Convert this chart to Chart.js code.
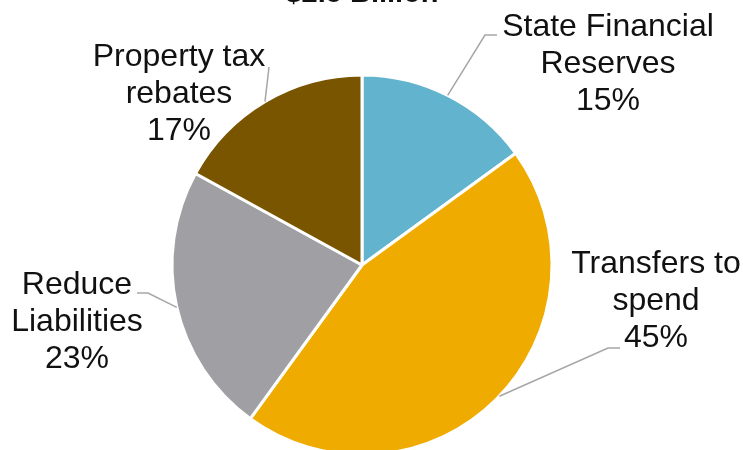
<!DOCTYPE html>
<html>
<head>
<meta charset="utf-8">
<script src="https://cdn.jsdelivr.net/npm/chart.js@4.4.0/dist/chart.umd.min.js"></script>
<style>
  html, body { margin: 0; padding: 0; background: #fff; overflow: hidden; width: 743px; height: 450px; }
  #wrap { position: relative; width: 743px; height: 460px; }
</style>
</head>
<body>
<div id="wrap"><canvas id="grafico"></canvas></div>
<script>
// data
var titulo = "$2.5 Billion";
var categorias = [
	["State Financial", "Reserves"],
	["Transfers to", "spend"],
	["Reduce", "Liabilities"],
	["Property tax", "rebates"]
];
var porcentajes = [15, 45, 23, 17];
var colores = ["#62B3CD", "#F0AB00", "#A09FA4", "#7A5500"];

// where each label sits, relative to the pie centre (middle line)
// and the leader line: angle on the rim (deg clockwise from top), elbow, end
var etiquetas = [
	{ dx: 246, dy: -192, ang: 26.8, elbow: [123, -230], fin: [135, -230] },
	{ dx: 294, dy: 45, ang: 133.7, elbow: [246, 83], fin: [258, 83] },
	{ dx: -285, dy: 66, ang: 257.1, elbow: [-214, 28], fin: [-225, 28] },
	{ dx: -183, dy: -162, ang: 329.3, elbow: [-93, -198], fin: [-93, -198] }
];

var fuente = '"Liberation Sans", Arial, sans-serif';

var etiquetasPlugin = {
	id: 'etiquetas',
	afterDraw: function(chart) {
		var ctx = chart.ctx;
		var arcs = chart.getDatasetMeta(0).data;
		if (!arcs.length) return;
		var cx = arcs[0].x, cy = arcs[0].y, r = arcs[0].outerRadius;

		ctx.save();
		// title, mostly above the canvas
		ctx.fillStyle = "#111";
		ctx.textAlign = "center";
		ctx.textBaseline = "alphabetic";
		ctx.font = "bold 29px " + fuente;
		ctx.fillText(titulo, cx, 2);

		// leader lines
		ctx.strokeStyle = "#A6A6A6";
		ctx.lineWidth = 1.5;
		for (var i = 0; i < etiquetas.length; i++) {
			var e = etiquetas[i];
			var a = e.ang * Math.PI / 180;
			ctx.beginPath();
			ctx.moveTo(cx + r * Math.sin(a), cy - r * Math.cos(a));
			ctx.lineTo(cx + e.elbow[0], cy + e.elbow[1]);
			ctx.lineTo(cx + e.fin[0], cy + e.fin[1]);
			ctx.stroke();
		}

		// category + percent text
		ctx.font = "32px " + fuente;
		ctx.fillStyle = "#111";
		var alto = 37;
		for (var j = 0; j < categorias.length; j++) {
			var lineas = categorias[j].concat([porcentajes[j] + "%"]);
			var x = cx + etiquetas[j].dx;
			var y = cy + etiquetas[j].dy - alto;
			for (var k = 0; k < lineas.length; k++) {
				ctx.fillText(lineas[k], x, y + k * alto);
			}
		}
		ctx.restore();
	}
};

var ctx = document.getElementById("grafico");

var chartdata = {
	labels: categorias.map(function(c) { return c.join(" "); }),
	datasets: [{
		data: porcentajes,
		backgroundColor: colores,
		borderColor: "#FFFFFF",
		borderWidth: 3
	}]
};

var pie = new Chart(ctx, {
	type: 'pie',
	data: chartdata,
	options: {
		responsive: true,
		maintainAspectRatio: false,
		animation: false,
		events: [],
		layout: { padding: { top: 73.5, bottom: 3.5, left: 0, right: 19 } },
		plugins: {
			legend: { display: false },
			tooltip: { enabled: false }
		}
	},
	plugins: [etiquetasPlugin]
});
</script>
</body>
</html>
